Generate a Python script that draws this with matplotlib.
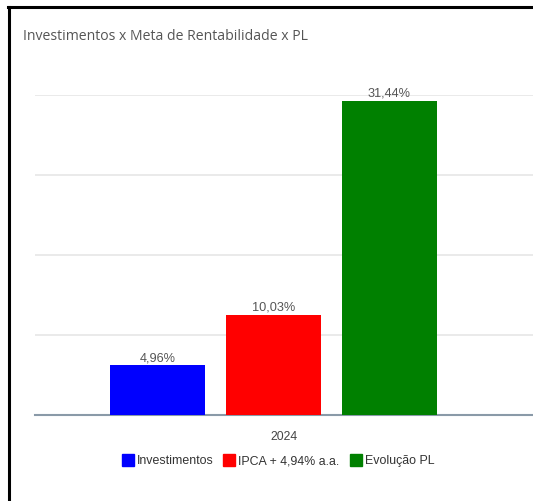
import matplotlib.pyplot as plt
from matplotlib.lines import Line2D
from matplotlib.patches import Rectangle

# dados
categorias = ["Investimentos", "IPCA + 4,94% a.a.", "Evolução PL"]
valores = [4.96, 10.03, 31.44]
rotulos = ["4,96%", "10,03%", "31,44%"]
cores = ["#0000ff", "#ff0000", "#008000"]
ano = "2024"

W, H = 533, 501
fig = plt.figure(figsize=(W / 100, H / 100), dpi=100, facecolor="white")

# eixo: x 35..533, y 95..415 (pixels)
ax = fig.add_axes([35 / W, 1 - 415 / H, (533 - 35) / W, (415 - 95) / H])
ax.set_facecolor("white")

pos = [0, 1, 2]
ax.bar(pos, valores, width=0.82, color=cores, zorder=3)
for p, v, r in zip(pos, valores, rotulos):
    ax.text(p, v + 0.1, r, ha="center", va="bottom", fontsize=9.2,
            family="Liberation Sans", color="#555555", zorder=4)

ax.set_xlim(-1.056, 3.237)
ax.set_ylim(0, 32)
ax.set_yticks([8, 16, 24, 32])
ax.yaxis.grid(True, color="#e6e6e6", linewidth=1.2, zorder=0)
ax.tick_params(left=False, bottom=False, labelleft=False, labelbottom=False)
for s in ["top", "right", "left"]:
    ax.spines[s].set_visible(False)
ax.spines["bottom"].set_color("#8a9aa8")
ax.spines["bottom"].set_linewidth(1.5)

# rótulo do ano
fig.text(284 / W, 1 - 437 / H, ano, ha="center", va="center", fontsize=8.8,
         family="Liberation Sans", color="#444444")

# título
fig.text(23 / W, 1 - 37 / H, "Investimentos x Meta de Rentabilidade x PL",
         ha="left", va="center", fontsize=10.1, family="Open Sans",
         color="#555555")

# legenda
leg_x = [122, 223, 350]
for x0, c, t in zip(leg_x, cores, categorias):
    fig.patches.append(Rectangle((x0 / W, 1 - 466 / H), 12 / W, 12 / H,
                                 transform=fig.transFigure, color=c))
    fig.text((x0 + 15) / W, 1 - 461 / H, t, ha="left", va="center",
             fontsize=8.9, family="Liberation Sans", color="#333333")

# moldura preta
fig.add_artist(Line2D([9 / W, 9 / W], [0, 1 - 7 / H], color="black",
                      linewidth=2.2, transform=fig.transFigure))
fig.add_artist(Line2D([8 / W, 1], [1 - 7 / H, 1 - 7 / H], color="black",
                      linewidth=2.2, transform=fig.transFigure))

fig.savefig("out.png", dpi=100, facecolor="white")
